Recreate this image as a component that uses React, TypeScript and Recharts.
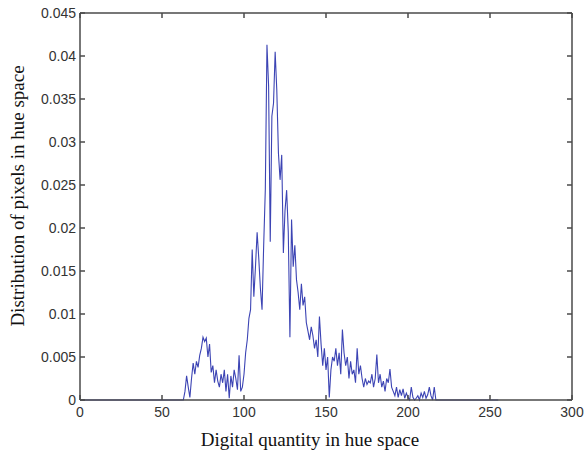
import React from 'react';
import { LineChart, Line, XAxis, YAxis } from 'recharts';

// Hue values (digital quantity in hue space), 0..255
const hueStart = 0;
// Distribution values (in units of 0.001) for hue 0..255
const zerosBefore = 64; // hue 0..63 are zero
const distCore: number[] = [
  // 64..99
  1.0, 2.8, 1.5, 0.3, 2.5, 4.3, 3.0, 4.5, 3.8, 5.2, 6.0, 7.3, 6.8, 7.2, 5.0, 6.5,
  3.2, 4.0, 2.0, 3.5, 2.2, 1.5, 3.0, 2.0, 3.5, 1.0, 3.0, 0.2, 2.8, 1.5, 3.5, 2.5,
  1.2, 5.2, 1.0, 1.5,
  // 100..133
  3.0, 5.5, 7.0, 9.5, 10.5, 17.5, 12.0, 15.5, 19.5, 16.5, 13.0, 10.5, 18.0, 24.5,
  41.3, 36.5, 18.4, 33.0, 34.5, 40.5, 36.0, 28.7, 25.6, 28.5, 17.1, 22.0, 24.4,
  19.5, 7.3, 21.0, 15.5, 18.0, 14.0, 12.5,
  // 134..169
  10.5, 13.5, 11.0, 12.0, 9.0, 8.0, 7.0, 8.5, 7.5, 6.0, 7.0, 5.0, 9.7, 6.5, 4.0,
  6.0, 3.5, 5.0, 0.3, 3.5, 5.0, 4.5, 6.0, 4.0, 5.5, 3.0, 8.2, 5.5, 4.0, 5.0, 2.5,
  4.5, 3.0, 3.5, 2.0, 6.0,
  // 170..216
  3.0, 4.0, 2.5, 1.5, 2.5, 1.8, 2.2, 2.0, 3.0, 1.5, 2.5, 5.3, 2.0, 3.0, 1.5, 2.2,
  1.0, 2.5, 2.0, 3.6, 1.5, 1.0, 0.5, 1.5, 0.3, 1.2, 0.5, 1.3, 0.2, 0.8, 0.3, 0.0,
  1.5, 0.3, 0.0, 0.2, 0.5, 0.0, 0.8, 0.3, 1.0, 0.2, 0.6, 1.5, 0.5, 0.0, 1.5,
];
const hueEnd = 255;

const xTicks = [0, 50, 100, 150, 200, 250, 300];
const yTicks = [0, 0.005, 0.01, 0.015, 0.02, 0.025, 0.03, 0.035, 0.04, 0.045];
const yTickLabels = ['0', '0.005', '0.01', '0.015', '0.02', '0.025', '0.03', '0.035', '0.04', '0.045'];

const data: { x: number; y: number }[] = [];
for (let h = hueStart; h <= hueEnd; h++) {
  const idx = h - zerosBefore;
  const v = idx >= 0 && idx < distCore.length ? distCore[idx] : 0;
  data.push({ x: h, y: v / 1000 });
}

const axisColor = '#4a4a4a';
const tickStyle = { fill: '#333', fontSize: 14, fontFamily: 'Liberation Sans, Arial, sans-serif' };
const blankTick = () => <g />;

export default function App() {
  return (
    <div style={{ position: 'absolute', left: 0, top: 0, background: '#fff' }}>
      <LineChart
        width={584}
        height={459}
        data={data}
        margin={{ top: 8, right: 7, bottom: 0, left: 20 }}
      >
        <XAxis
          xAxisId="b"
          dataKey="x"
          type="number"
          domain={[0, 300]}
          ticks={xTicks}
          interval={0}
          orientation="bottom"
          height={59}
          tickSize={-5}
          tickMargin={12}
          stroke={axisColor}
          strokeWidth={1.5}
          tick={tickStyle}
          label={{
            content: () => (
              <text
                x={310}
                y={446}
                textAnchor="middle"
                style={{ fontFamily: 'Liberation Serif, Times New Roman, serif', fontSize: 19, fill: '#111' }}
              >
                Digital quantity in hue space
              </text>
            ),
          }}
        />
        <XAxis
          xAxisId="t"
          dataKey="x"
          type="number"
          domain={[0, 300]}
          ticks={xTicks}
          interval={0}
          orientation="top"
          height={5}
          tickSize={-5}
          tick={blankTick}
          stroke={axisColor}
          strokeWidth={1.5}
        />
        <YAxis
          yAxisId="l"
          type="number"
          domain={[0, 0.045]}
          ticks={yTicks}
          interval={0}
          width={60}
          tickSize={-5}
          tickMargin={9}
          stroke={axisColor}
          strokeWidth={1.5}
          tick={tickStyle}
          tickFormatter={(v: number) => yTickLabels[yTicks.indexOf(v)] ?? String(v)}
          label={{
            content: () => (
              <text
                x={24}
                y={196}
                textAnchor="middle"
                transform="rotate(-90, 24, 196)"
                style={{ fontFamily: 'Liberation Serif, Times New Roman, serif', fontSize: 19, fill: '#111' }}
              >
                Distribution of pixels in hue space
              </text>
            ),
          }}
        />
        <YAxis
          yAxisId="r"
          orientation="right"
          type="number"
          domain={[0, 0.045]}
          ticks={yTicks}
          interval={0}
          width={5}
          tickSize={-5}
          tick={blankTick}
          stroke={axisColor}
          strokeWidth={1.5}
        />
        <Line
          xAxisId="b"
          yAxisId="l"
          type="linear"
          dataKey="y"
          stroke="#3c44b4"
          strokeWidth={1.1}
          dot={false}
          isAnimationActive={false}
        />
        <Line
          xAxisId="t"
          yAxisId="r"
          dataKey="y"
          stroke="none"
          dot={false}
          legendType="none"
          isAnimationActive={false}
        />
      </LineChart>
    </div>
  );
}
